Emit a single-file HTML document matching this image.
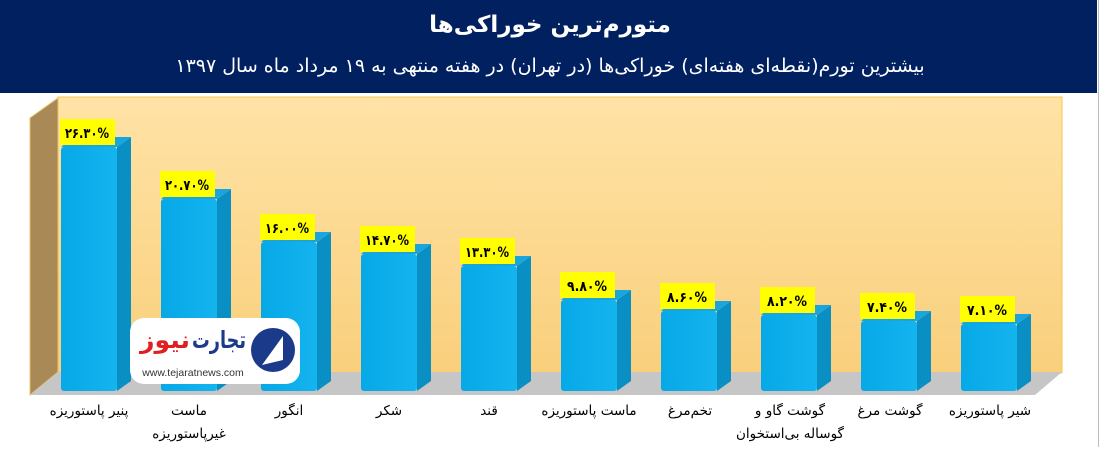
<!DOCTYPE html>
<html><head><meta charset="utf-8"><style>
body{margin:0;width:1100px;height:447px;overflow:hidden;background:#fff;font-family:"Liberation Sans","DejaVu Sans",sans-serif}
</style></head><body>
<svg width="1100" height="447" viewBox="0 0 1100 447" xmlns="http://www.w3.org/2000/svg">
<defs>
<linearGradient id="wall" x1="0" y1="0" x2="0" y2="1"><stop offset="0" stop-color="#ffe3a6"/><stop offset="1" stop-color="#f9cf7c"/></linearGradient>
<linearGradient id="front" x1="0" y1="0" x2="1" y2="0"><stop offset="0" stop-color="#06a8e6"/><stop offset="1" stop-color="#14b4ef"/></linearGradient>
</defs>
<rect x="0" y="0" width="1097" height="93" fill="#012060"/>
<line x1="1098.5" y1="0" x2="1098.5" y2="447" stroke="#bbb"/>
<text x="550" y="32" text-anchor="middle" fill="#fff" font-size="23" font-weight="bold" font-family="'DejaVu Sans',sans-serif" direction="rtl">متورم‌ترین خوراکی‌ها</text>
<text x="550" y="72" text-anchor="middle" fill="#fff" font-size="19" font-family="'DejaVu Sans',sans-serif" direction="rtl">بیشترین تورم(نقطه‌ای هفته‌ای) خوراکی‌ها (در تهران) در هفته منتهی به ۱۹ مرداد ماه سال ۱۳۹۷</text>
<rect x="58" y="97" width="1004" height="276" fill="url(#wall)" stroke="#f2c94c" stroke-width="1"/>
<polygon points="30,118 58,98 58,372 30,395" fill="#a98a56" stroke="#e8c060"/>
<polygon points="30,395 1035,395 1062,372 58,372" fill="#c6c6c6"/>

<g font-family="'DejaVu Sans',sans-serif" font-size="14" font-weight="bold" text-anchor="middle">
<g transform="translate(61,147)"><polygon points="56,0 70,-10 70,234 56,244" fill="#0a8fc4"/><polygon points="0,0 12,-10 70,-10 56,0" fill="#1aa6dd"/><rect x="0" y="0" width="56" height="244" rx="3" fill="url(#front)"/><rect x="-1" y="-28" width="55" height="26" fill="#ff0"/><text x="26" y="-9" textLength="44" lengthAdjust="spacingAndGlyphs">۲۶.۳۰%</text></g>
<g transform="translate(161,199)"><polygon points="56,0 70,-10 70,182 56,192" fill="#0a8fc4"/><polygon points="0,0 12,-10 70,-10 56,0" fill="#1aa6dd"/><rect x="0" y="0" width="56" height="192" rx="3" fill="url(#front)"/><rect x="-1" y="-28" width="55" height="26" fill="#ff0"/><text x="26" y="-9" textLength="44" lengthAdjust="spacingAndGlyphs">۲۰.۷۰%</text></g>
<g transform="translate(261,242)"><polygon points="56,0 70,-10 70,139 56,149" fill="#0a8fc4"/><polygon points="0,0 12,-10 70,-10 56,0" fill="#1aa6dd"/><rect x="0" y="0" width="56" height="149" rx="3" fill="url(#front)"/><rect x="-1" y="-28" width="55" height="26" fill="#ff0"/><text x="26" y="-9" textLength="44" lengthAdjust="spacingAndGlyphs">۱۶.۰۰%</text></g>
<g transform="translate(361,254)"><polygon points="56,0 70,-10 70,127 56,137" fill="#0a8fc4"/><polygon points="0,0 12,-10 70,-10 56,0" fill="#1aa6dd"/><rect x="0" y="0" width="56" height="137" rx="3" fill="url(#front)"/><rect x="-1" y="-28" width="55" height="26" fill="#ff0"/><text x="26" y="-9" textLength="44" lengthAdjust="spacingAndGlyphs">۱۴.۷۰%</text></g>
<g transform="translate(461,266)"><polygon points="56,0 70,-10 70,115 56,125" fill="#0a8fc4"/><polygon points="0,0 12,-10 70,-10 56,0" fill="#1aa6dd"/><rect x="0" y="0" width="56" height="125" rx="3" fill="url(#front)"/><rect x="-1" y="-28" width="55" height="26" fill="#ff0"/><text x="26" y="-9" textLength="44" lengthAdjust="spacingAndGlyphs">۱۳.۳۰%</text></g>
<g transform="translate(561,300)"><polygon points="56,0 70,-10 70,81 56,91" fill="#0a8fc4"/><polygon points="0,0 12,-10 70,-10 56,0" fill="#1aa6dd"/><rect x="0" y="0" width="56" height="91" rx="3" fill="url(#front)"/><rect x="-1" y="-28" width="55" height="26" fill="#ff0"/><text x="26" y="-9" textLength="40" lengthAdjust="spacingAndGlyphs">۹.۸۰%</text></g>
<g transform="translate(661,311)"><polygon points="56,0 70,-10 70,70 56,80" fill="#0a8fc4"/><polygon points="0,0 12,-10 70,-10 56,0" fill="#1aa6dd"/><rect x="0" y="0" width="56" height="80" rx="3" fill="url(#front)"/><rect x="-1" y="-28" width="55" height="26" fill="#ff0"/><text x="26" y="-9" textLength="40" lengthAdjust="spacingAndGlyphs">۸.۶۰%</text></g>
<g transform="translate(761,315)"><polygon points="56,0 70,-10 70,66 56,76" fill="#0a8fc4"/><polygon points="0,0 12,-10 70,-10 56,0" fill="#1aa6dd"/><rect x="0" y="0" width="56" height="76" rx="3" fill="url(#front)"/><rect x="-1" y="-28" width="55" height="26" fill="#ff0"/><text x="26" y="-9" textLength="40" lengthAdjust="spacingAndGlyphs">۸.۲۰%</text></g>
<g transform="translate(861,321)"><polygon points="56,0 70,-10 70,60 56,70" fill="#0a8fc4"/><polygon points="0,0 12,-10 70,-10 56,0" fill="#1aa6dd"/><rect x="0" y="0" width="56" height="70" rx="3" fill="url(#front)"/><rect x="-1" y="-28" width="55" height="26" fill="#ff0"/><text x="26" y="-9" textLength="40" lengthAdjust="spacingAndGlyphs">۷.۴۰%</text></g>
<g transform="translate(961,324)"><polygon points="56,0 70,-10 70,57 56,67" fill="#0a8fc4"/><polygon points="0,0 12,-10 70,-10 56,0" fill="#1aa6dd"/><rect x="0" y="0" width="56" height="67" rx="3" fill="url(#front)"/><rect x="-1" y="-28" width="55" height="26" fill="#ff0"/><text x="26" y="-9" textLength="40" lengthAdjust="spacingAndGlyphs">۷.۱۰%</text></g>
</g>

<g font-family="'DejaVu Sans',sans-serif" font-size="13.5" fill="#000" text-anchor="middle" direction="rtl">
<text x="89" y="415">پنیر پاستوریزه</text>
<text x="189" y="415">ماست</text><text x="189" y="438">غیرپاستوریزه</text>
<text x="289" y="415">انگور</text>
<text x="389" y="415">شکر</text>
<text x="489" y="415">قند</text>
<text x="589" y="415">ماست پاستوریزه</text>
<text x="690" y="415">تخم‌مرغ</text>
<text x="790" y="415">گوشت گاو و</text><text x="790" y="438">گوساله بی‌استخوان</text>
<text x="890" y="415">گوشت مرغ</text>
<text x="990" y="415">شیر پاستوریزه</text>
</g>
<g>
<rect x="130" y="318" width="170" height="66" rx="14" fill="#fff"/>
<circle cx="270" cy="350" r="30" fill="#fff"/>
<circle cx="273" cy="350" r="22" fill="#1b3a8a"/>
<path d="M262 365 L283 336 L283 360 Z" fill="#fff"/>
<text x="219" y="348" text-anchor="middle" font-size="24" font-weight="bold" fill="#1b3a8a" font-family="'DejaVu Sans',sans-serif" textLength="54" lengthAdjust="spacingAndGlyphs">تجارت</text>
<text x="165" y="348" text-anchor="middle" font-size="24" font-weight="bold" fill="#e02020" font-family="'DejaVu Sans',sans-serif" textLength="50" lengthAdjust="spacingAndGlyphs">نیوز</text>
<text x="193" y="376" text-anchor="middle" font-size="10.5" fill="#333">www.tejaratnews.com</text>
</g>
</svg>
</body></html>
